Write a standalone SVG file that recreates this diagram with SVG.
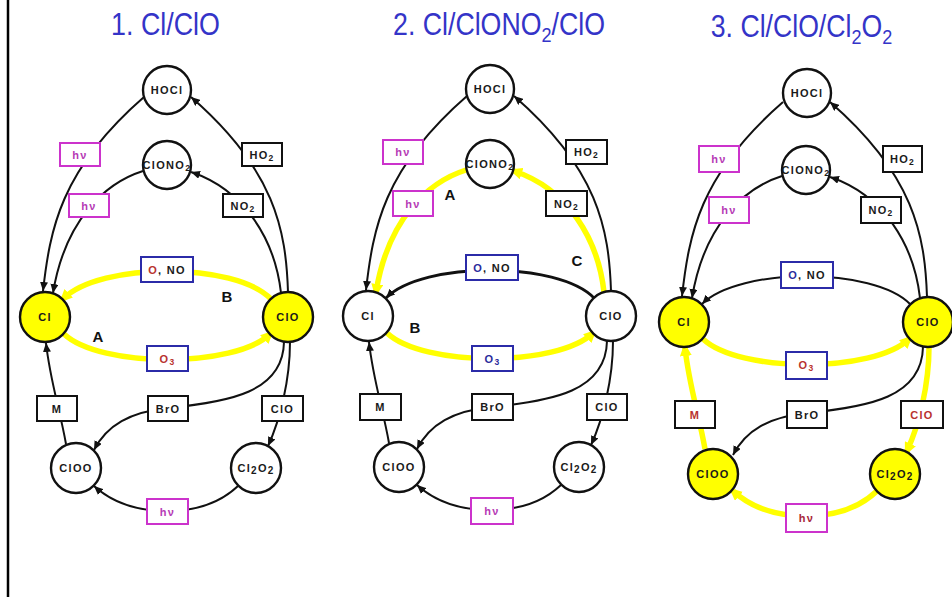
<svg xmlns="http://www.w3.org/2000/svg" width="952" height="597" viewBox="0 0 952 597">
<style>
.c{stroke:#111;stroke-width:2.4;fill:#fff}
.cy{stroke:#111;stroke-width:2.4;fill:#ffff00}
.b{stroke:#111;stroke-width:2;fill:#fff}
.bm{stroke:#cc33cc;stroke-width:2;fill:#fff}
.bb{stroke:#2b2ba8;stroke-width:2;fill:#fff}
.t{font-family:"Liberation Sans",Arial,sans-serif;font-weight:bold;font-size:11px;letter-spacing:1.3px;text-anchor:middle;fill:#1a1a1a}
.tm{fill:#b63cb6}
.tr{fill:#b8322e}
.tbl{fill:#2b2b9c}
.k{fill:none;stroke:#111;stroke-width:2;marker-end:url(#ak)}
.kt{fill:none;stroke:#111;stroke-width:2.8;marker-end:url(#ak)}
.y{fill:none;stroke:#ffff00;stroke-width:5.5;marker-end:url(#ay)}
.lbl{font-family:"Liberation Sans",Arial,sans-serif;font-weight:bold;font-size:15px;text-anchor:middle;fill:#111}
.title{font-family:"Liberation Sans",Arial,sans-serif;font-size:31px;fill:#3434c8;text-anchor:middle}
</style>
<defs>
<marker id="ak" markerUnits="userSpaceOnUse" markerWidth="9" markerHeight="8" refX="9" refY="4" orient="auto"><path d="M0,0 L9,4 L0,8 z" fill="#111"/></marker>
<marker id="ay" markerUnits="userSpaceOnUse" markerWidth="13" markerHeight="12" refX="8" refY="6" orient="auto"><path d="M0,0 L13,6 L0,12 z" fill="#ffff00"/></marker>
</defs>
<rect width="952" height="597" fill="#fff"/>
<line x1="8" y1="0" x2="8" y2="597" stroke="#000" stroke-width="2.5"/>

<text class="title" transform="translate(165.5,35) scale(0.866,1)">1. Cl/ClO</text>
<text class="title" transform="translate(499,35) scale(0.862,1)">2. Cl/ClONO<tspan font-size="21" dy="7">2</tspan><tspan dy="-7">/ClO</tspan></text>
<text class="title" transform="translate(801.5,37) scale(0.86,1)">3. Cl/ClO/Cl<tspan font-size="21" dy="7">2</tspan><tspan dy="-7">O</tspan><tspan font-size="21" dy="7">2</tspan></text>

<!-- PANEL 1 -->
<g id="panel1">
<g id="p1-connectors">
<path class="k" d="M144,97 C60,170 50,230 43,291"/>
<path class="k" d="M288,292 C286,230 275,170 191,97"/>
<path class="k" d="M143,171 C105,183 65,220 53,293"/>
<path class="k" d="M281,293 C275,240 245,190 191,172"/>
<path class="y" d="M271,299 C235,262 100,262 63,299"/>
<path class="y" d="M64,334 C100,368 235,368 270,334"/>
<path class="k" d="M66,444 C60,410 50,380 46,343"/>
<path class="k" d="M284,342 C283,392 230,402 168,408 C130,412 107,425 94,450"/>
<path class="k" d="M290,342 C290,380 280,420 268,446"/>
<path class="k" d="M238,486 C220,503 195,511 167,511 C140,511 115,505 94,486"/>
</g>
<g id="p1-HOCl"><circle class="c" cx="167" cy="90" r="24"/><text class="t" x="167" y="94">HOCl</text></g>
<g id="p1-ClONO2"><circle class="c" cx="167" cy="165" r="24"/><text class="t" x="167" y="169">ClONO<tspan font-size="9" dy="2">2</tspan></text></g>
<g id="p1-Cl"><circle class="cy" cx="45" cy="317" r="25"/><text class="t" x="45" y="321">Cl</text></g>
<g id="p1-ClO"><circle class="cy" cx="288" cy="317" r="25"/><text class="t" x="288" y="321">ClO</text></g>
<g id="p1-ClOO"><circle class="c" cx="76" cy="468" r="25"/><text class="t" x="76" y="472">ClOO</text></g>
<g id="p1-Cl2O2"><circle class="c" cx="256" cy="468" r="25"/><text class="t" x="256" y="472">Cl<tspan font-size="10" dy="2">2</tspan><tspan dy="-2">O</tspan><tspan font-size="10" dy="2">2</tspan></text></g>
<g id="p1-hv1"><rect class="bm" x="60" y="143" width="40" height="23"/><text class="t tm" x="80" y="158.5">hν</text></g>
<g id="p1-HO2"><rect class="b" x="242" y="143" width="40" height="23"/><text class="t" x="262" y="158.5">HO<tspan font-size="8.5" dy="2">2</tspan></text></g>
<g id="p1-hv2"><rect class="bm" x="69" y="194" width="40" height="23"/><text class="t tm" x="89" y="209.5">hν</text></g>
<g id="p1-NO2"><rect class="b" x="223" y="194" width="40" height="23"/><text class="t" x="243" y="209.5">NO<tspan font-size="8.5" dy="2">2</tspan></text></g>
<g id="p1-ONO"><rect class="bb" x="141" y="257" width="52" height="25"/><text class="t" x="167" y="273.5"><tspan class="tr">O</tspan>, NO</text></g>
<g id="p1-O3"><rect class="bb" x="147" y="346" width="41" height="25"/><text class="t tr" x="167.5" y="362.5">O<tspan font-size="8.5" dy="2">3</tspan></text></g>
<g id="p1-M"><rect class="b" x="37" y="396" width="40" height="25"/><text class="t" x="57" y="412.5">M</text></g>
<g id="p1-BrO"><rect class="b" x="148" y="396" width="40" height="25"/><text class="t" x="168" y="412.5">BrO</text></g>
<g id="p1-ClObox"><rect class="b" x="262" y="396" width="41" height="25"/><text class="t" x="282.5" y="412.5">ClO</text></g>
<g id="p1-hv3"><rect class="bm" x="147" y="499" width="41" height="25"/><text class="t tm" x="167.5" y="515.5">hν</text></g>
<text class="lbl" x="227" y="302">B</text>
<text class="lbl" x="98" y="342">A</text>
</g>

<!-- PANEL 2 -->
<g id="panel2" transform="translate(323,-1)">
<g id="p2-connectors">
<path class="k" d="M144,97 C60,170 50,230 43,291"/>
<path class="k" d="M288,292 C286,230 275,170 191,97"/>
<path class="y" d="M143,171 C105,183 65,220 53,293"/>
<path class="y" d="M281,293 C275,240 245,190 191,172"/>
<path class="kt" d="M271,299 C235,262 100,262 63,299"/>
<path class="y" d="M64,334 C100,368 235,368 270,334"/>
<path class="k" d="M66,444 C60,410 50,380 46,343"/>
<path class="k" d="M284,342 C283,392 230,402 168,408 C130,412 107,425 94,450"/>
<path class="k" d="M290,342 C290,380 280,420 268,446"/>
<path class="k" d="M238,486 C220,503 195,511 167,511 C140,511 115,505 94,486"/>
</g>
<g id="p2-HOCl"><circle class="c" cx="167" cy="90" r="24"/><text class="t" x="167" y="94">HOCl</text></g>
<g id="p2-ClONO2"><circle class="c" cx="167" cy="165" r="24"/><text class="t" x="167" y="169">ClONO<tspan font-size="9" dy="2">2</tspan></text></g>
<g id="p2-Cl"><circle class="c" cx="45" cy="317" r="25"/><text class="t" x="45" y="321">Cl</text></g>
<g id="p2-ClO"><circle class="c" cx="288" cy="317" r="25"/><text class="t" x="288" y="321">ClO</text></g>
<g id="p2-ClOO"><circle class="c" cx="76" cy="468" r="25"/><text class="t" x="76" y="472">ClOO</text></g>
<g id="p2-Cl2O2"><circle class="c" cx="256" cy="468" r="25"/><text class="t" x="256" y="472">Cl<tspan font-size="10" dy="2">2</tspan><tspan dy="-2">O</tspan><tspan font-size="10" dy="2">2</tspan></text></g>
<g id="p2-hv1"><rect class="bm" x="60" y="141" width="40" height="24"/><text class="t tm" x="80" y="157">hν</text></g>
<g id="p2-HO2"><rect class="b" x="243" y="141" width="41" height="24"/><text class="t" x="263.5" y="157">HO<tspan font-size="8.5" dy="2">2</tspan></text></g>
<g id="p2-hv2"><rect class="bm" x="70" y="192" width="40" height="25"/><text class="t tm" x="90" y="208.5">hν</text></g>
<g id="p2-NO2"><rect class="b" x="223" y="192" width="41" height="25"/><text class="t" x="243.5" y="208.5">NO<tspan font-size="8.5" dy="2">2</tspan></text></g>
<g id="p2-ONO"><rect class="bb" x="143" y="256" width="52" height="25"/><text class="t" x="169" y="272.5"><tspan class="tbl">O</tspan>, NO</text></g>
<g id="p2-O3"><rect class="bb" x="149" y="347" width="41" height="25"/><text class="t tbl" x="169.5" y="363.5">O<tspan font-size="8.5" dy="2">3</tspan></text></g>
<g id="p2-M"><rect class="b" x="37" y="395" width="41" height="26"/><text class="t" x="57.5" y="412">M</text></g>
<g id="p2-BrO"><rect class="b" x="149" y="395" width="41" height="26"/><text class="t" x="169.5" y="412">BrO</text></g>
<g id="p2-ClObox"><rect class="b" x="264" y="395" width="40" height="26"/><text class="t" x="284" y="412">ClO</text></g>
<g id="p2-hv3"><rect class="bm" x="148" y="499" width="42" height="26"/><text class="t tm" x="169" y="516">hν</text></g>
<text class="lbl" x="127" y="201">A</text>
<text class="lbl" x="92" y="334">B</text>
<text class="lbl" x="254" y="267">C</text>
</g>

<!-- PANEL 3 -->
<g id="panel3" transform="translate(639,5)">
<g id="p3-connectors">
<path class="k" d="M144,97 C60,170 50,230 43,291"/>
<path class="k" d="M288,292 C286,230 275,170 191,97"/>
<path class="k" d="M143,171 C105,183 65,220 53,293"/>
<path class="k" d="M281,293 C275,240 245,190 191,172"/>
<path class="k" d="M271,299 C235,262 100,262 63,299"/>
<path class="y" d="M64,334 C100,368 235,368 270,334"/>
<path class="y" d="M66,444 C60,410 50,380 46,343"/>
<path class="k" d="M284,342 C283,392 230,402 168,408 C130,412 107,425 94,450"/>
<path class="y" d="M290,342 C290,380 280,420 268,446"/>
<path class="y" d="M238,486 C220,503 195,511 167,511 C140,511 115,505 94,486"/>
</g>
<g id="p3-HOCl"><circle class="c" cx="168" cy="88" r="24"/><text class="t" x="168" y="92">HOCl</text></g>
<g id="p3-ClONO2"><circle class="c" cx="167" cy="165" r="24"/><text class="t" x="167" y="169">ClONO<tspan font-size="9" dy="2">2</tspan></text></g>
<g id="p3-Cl"><circle class="cy" cx="45" cy="317" r="25"/><text class="t" x="45" y="321">Cl</text></g>
<g id="p3-ClO"><circle class="cy" cx="289" cy="317" r="25"/><text class="t" x="289" y="321">ClO</text></g>
<g id="p3-ClOO"><circle class="cy" cx="74" cy="469" r="25"/><text class="t" x="74" y="473">ClOO</text></g>
<g id="p3-Cl2O2"><circle class="cy" cx="256" cy="469" r="25"/><text class="t" x="256" y="473">Cl<tspan font-size="10" dy="2">2</tspan><tspan dy="-2">O</tspan><tspan font-size="10" dy="2">2</tspan></text></g>
<g id="p3-hv1"><rect class="bm" x="60" y="141" width="40" height="26"/><text class="t tm" x="80" y="158">hν</text></g>
<g id="p3-HO2"><rect class="b" x="244" y="141" width="39" height="26"/><text class="t" x="263.5" y="158">HO<tspan font-size="8.5" dy="2">2</tspan></text></g>
<g id="p3-hv2"><rect class="bm" x="70" y="192" width="40" height="26"/><text class="t tm" x="90" y="209">hν</text></g>
<g id="p3-NO2"><rect class="b" x="222" y="192" width="40" height="26"/><text class="t" x="242" y="209">NO<tspan font-size="8.5" dy="2">2</tspan></text></g>
<g id="p3-ONO"><rect class="bb" x="142" y="257" width="52" height="26"/><text class="t" x="168" y="274"><tspan class="tbl">O</tspan>, NO</text></g>
<g id="p3-O3"><rect class="bb" x="147" y="347" width="41" height="27"/><text class="t tr" x="167.5" y="364">O<tspan font-size="8.5" dy="2">3</tspan></text></g>
<g id="p3-M"><rect class="b" x="36" y="396" width="40" height="27"/><text class="t tr" x="56" y="413.5">M</text></g>
<g id="p3-BrO"><rect class="b" x="148" y="396" width="40" height="27"/><text class="t" x="168" y="413.5">BrO</text></g>
<g id="p3-ClObox"><rect class="b" x="262" y="396" width="42" height="27"/><text class="t tr" x="283" y="413.5">ClO</text></g>
<g id="p3-hv3"><rect class="bm" x="147" y="499" width="41" height="28"/><text class="t" x="167.5" y="517" style="fill:#a8283a">hν</text></g>
</g>
</svg>
